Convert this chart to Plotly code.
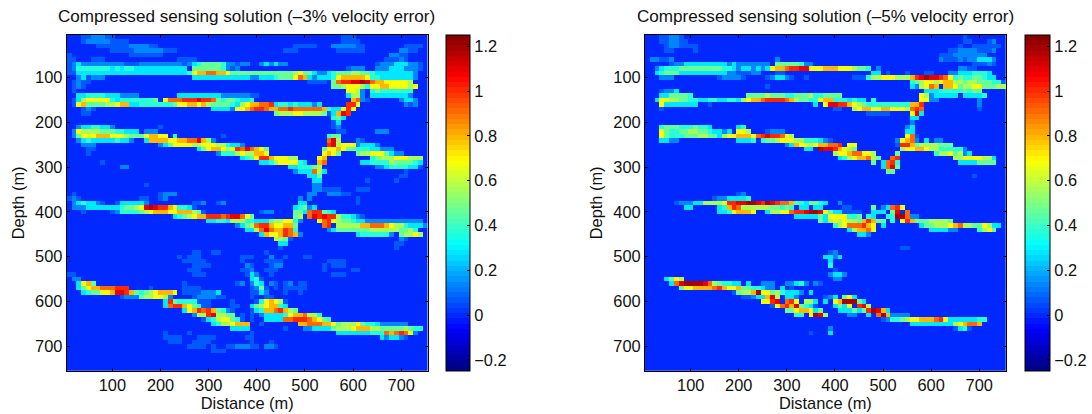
import numpy as np
import plotly.graph_objects as go

DEPTH_M = list(range(10, 760, 10))
DISTANCE_M = list(range(10, 760, 10))
TICKS_M = [100, 200, 300, 400, 500, 600, 700]
CBAR_TICKS = [-0.2, 0, 0.2, 0.4, 0.6, 0.8, 1, 1.2]
TITLE_A = "Compressed sensing solution (\u20133% velocity error)"
TITLE_B = "Compressed sensing solution (\u20135% velocity error)"
# amplitude of each code character used in the segments below
CODE_VALUES = {"1": 0.06, "2": 0.14, "3": 0.27, "4": 0.37, "5": 0.47, "6": 0.57, "7": 0.68,
               "8": 0.8, "9": 0.9, "a": 1.0, "b": 1.1, "c": 1.2}

# amplitude, as (row, first column, amplitude codes)
AMPLITUDE_3PCT = [
 (0,3,"1122211"),(0,57,"111"),
 (1,3,"1222221111"),(1,57,"1111"),
 (2,6,"1111111222211"),(2,47,"11111"),(2,55,"2222211"),(2,70,"1111"),
 (3,9,"11111222222111"),(3,45,"111"),(3,56,"111111"),(3,69,"2211"),
 (4,0,"1"),(4,13,"1111111"),(4,67,"2211"),
 (5,0,"11"),(5,5,"111"),(5,23,"1111"),(5,66,"11121"),
 (6,0,"12322222222211122222222212"),(6,26,"3455554"),(6,33,"22122"),(6,40,"232322"),(6,64,"1222333221"),
 (7,0,"1244444443434433333333333"),(7,26,"5555554"),(7,33,"212"),(7,58,"1222"),(7,64,"2223332221"),
 (8,0,"1133333333333333333333333"),(8,25,"4788998875"),(8,35,"5555555555556755"),(8,51,"32234"),(8,56,"5556655"),(8,63,"4333333332"),
 (9,2,"231222"),(9,26,"33333333333322"),(9,40,"3334555"),(9,47,"798"),(9,50,"323334"),(9,56,"7888887"),(9,63,"4433"),(9,66,"3333332"),
 (10,1,"1211"),(10,50,"1111"),(10,55,"5"),(10,56,"9aabbcb9"),(10,64,"88777776"),
 (11,1,"121"),(11,55,"5567776"),(11,62,"47788777767"),
 (12,1,"1"),(12,58,"7762"),(12,63,"454444444"),
 (13,2,"33444433322"),(13,13,"22"),(13,23,"333333333"),(13,32,"22222211"),(13,58,"3663"),(13,61,"2"),(13,63,"333333332"),
 (14,1,"1"),(14,2,"3677777"),(14,9,"4344444445"),(14,20,"7999aaabaa9"),(14,31,"54554334"),(14,59,"89"),(14,61,"21"),(14,69,"2332"),
 (15,1,"1"),(15,2,"78555566788"),(15,13,"3344444445"),(15,23,"77887865"),(15,31,"55543"),(15,36,"678899a"),(15,43,"3443433323"),(15,58,"aa7"),(15,70,"212"),
 (16,3,"121"),(16,30,"33332"),(16,35,"7789aa9"),(16,42,"8899a9999998"),(16,54,"4"),(16,55,"337a7"),
 (17,3,"11"),(17,43,"56667766665"),(17,55,"38ba"),(17,54,"1"),
 (18,55,"453"),(19,55,"13"),(20,55,"12"),(21,56,"11"),(21,64,"222"),
 (20,2,"23344332"),(20,19,"1"),
 (21,1,"2"),(21,2,"7666655544333"),(21,16,"222"),
 (22,1,"2"),(22,2,"57778887776555"),(22,16,"78877"),(22,22,"4"),(22,32,"1"),(22,54,"455"),
 (23,2,"2"),(23,3,"3433333433"),(23,13,"2"),(23,16,"3"),(23,17,"8888"),(23,21,"77889"),(23,26,"9b86"),(23,30,"2"),(23,54,"9b6"),(23,60,"21"),
 (24,3,"222"),(24,19,"22"),(24,20,"357777667"),(24,29,"7766"),(24,33,"4332"),(24,54,"ab5"),(24,56,"6777"),(24,60,"23332"),
 (25,4,"11"),(25,27,"3"),(25,28,"5788"),(25,32,"767a"),(25,36,"9b"),(25,38,"9875"),(25,53,"5778"),(25,57,"7554"),(25,61,"4433222"),
 (26,4,"1"),(26,31,"2"),(26,32,"44467"),(26,37,"66887"),(26,53,"7875"),(26,60,"5667775"),(26,67,"322"),
 (27,36,"3"),(27,37,"4578a9"),(27,40,"aa8"),(27,43,"77766"),(27,52,"7"),(27,53,"8"),(27,63,"45666788"),(27,69,"77666"),
 (28,7,"1"),(28,40,"334"),(28,43,"6777743"),(28,52,"89"),(28,61,"3"),(28,62,"34444655554"),(28,73,"3"),
 (29,11,"22"),(29,46,"3344455"),(29,52,"6"),(29,64,"2234444331"),
 (30,47,"233"),(30,50,"36"),(30,51,"96"),(30,53,"3"),(30,70,"1"),
 (31,50,"335"),(31,69,"11"),
 (32,51,"33"),(32,62,"1"),(32,68,"1"),
 (33,16,"1"),(33,51,"22"),
 (34,51,"221111"),(34,60,"111"),
 (35,1,"1"),(35,19,"1222"),(35,50,"22"),(35,54,"22211"),
 (36,0,"121"),(36,15,"11"),(36,19,"12"),(36,48,"2"),(36,50,"2"),(36,60,"1"),
 (37,1,"2343321"),(37,10,"1333332"),(37,26,"112"),(37,31,"12"),(37,48,"33"),(37,60,"1"),
 (38,1,"222333333345567"),(38,16,"bcbaa87"),(38,23,"443"),(38,26,"1"),(38,47,"3452"),(38,50,"23"),
 (39,3,"1"),(39,9,"1244445"),(39,16,"6788877888"),(39,26,"651"),(39,40,"122"),(39,47,"5532"),(39,50,"9aa5"),(39,54,"43"),
 (40,22,"3"),(40,23,"4567"),(40,27,"88aaa9ab"),(40,35,"b97"),(40,38,"5"),(40,47,"56"),(40,50,"9ba"),(40,53,"baa6"),(40,57,"44321"),
 (41,29,"33443"),(41,34,"6664"),(41,38,"433"),(41,40,"3356677"),(41,47,"42"),(41,52,"7"),(41,53,"9a"),(41,55,"76"),(41,57,"55433222222222222"),
 (42,35,"2"),(42,36,"35"),(42,38,"6"),(42,39,"9a"),(42,41,"a8"),(42,43,"7788"),(42,47,"5"),(42,53,"9a"),(42,56,"66666"),(42,61,"889998766433322"),
 (43,37,"3"),(43,38,"36"),(43,40,"9b9"),(43,43,"88a9"),(43,47,"4"),(43,54,"2"),(43,55,"3"),(43,56,"5555"),(43,60,"5556666665544"),(43,70,"56"),
 (44,40,"3"),(44,41,"8778a98"),(44,48,"2"),(44,60,"3444444"),(44,67,"2"),(44,69,"56676"),
 (45,43,"6"),(45,44,"65"),(45,46,"1"),(45,69,"21"),
 (46,44,"33"),(46,68,"11"),
 (47,44,"1"),(47,68,"1"),
 (48,41,"1"),(48,26,"11"),
 (48,30,"11"),
 (49,23,"1"),(49,25,"111"),(49,36,"1"),(49,42,"2"),(49,45,"1"),(49,49,"1"),(49,37,"11"),(49,50,"1"),
 (50,24,"11111"),(50,36,"1"),(50,41,"1111"),(50,54,"1111"),
 (51,26,"1111"),(51,37,"21"),(51,42,"122"),(51,53,"1"),(51,55,"111"),
 (52,25,"111"),(52,36,"112"),(52,41,"111"),(52,53,"1"),(52,59,"11"),
 (53,0,"11"),(53,26,"111"),(53,37,"132"),(53,42,"1"),(53,55,"111"),
 (54,1,"22"),(54,38,"341"),
 (55,2,"3785"),(55,24,"1"),(55,35,"12"),(55,38,"243"),(55,42,"2"),(55,43,"1"),(55,45,"12"),(55,48,"11"),
 (56,2,"3"),(56,3,"5788999aaa"),(56,17,"1"),(56,24,"1111"),(56,38,"1251"),(56,41,"1"),(56,43,"1"),(56,45,"111"),(56,48,"11"),
 (57,3,"3"),(57,4,"4557788ab"),(57,10,"bba8545678887"),(57,24,"1111"),(57,28,"2223"),(57,38,"1132"),(57,45,"1"),(57,48,"1"),
 (58,11,"12"),(58,13,"225"),(58,16,"66776"),(58,21,"2"),(58,26,"1222"),(58,30,"211"),(58,38,"1"),(58,41,"11"),
 (59,20,"3a"),(59,22,"54444"),(59,27,"111"),(59,34,"1"),(59,39,"14"),(59,41,"78"),(59,43,"761"),
 (60,20,"3"),(60,21,"9aa8754"),(60,28,"11"),(60,34,"11"),(60,38,"3"),(60,39,"5"),(60,40,"6788"),(60,44,"43"),
 (61,24,"3"),(61,25,"7"),(61,26,"8a9a"),(61,30,"854"),(61,33,"21"),(61,38,"1"),(61,39,"34"),(61,41,"889a"),(61,45,"865"),
 (62,26,"2"),(62,27,"66ab"),(62,31,"6655"),(62,36,"1"),(62,38,"1"),(62,40,"233334"),(62,46,"7889"),(62,50,"664"),
 (63,28,"1"),(63,29,"346"),(63,32,"7754"),(63,36,"1"),(63,38,"1"),(63,41,"3333"),(63,45,"99aaa987"),(63,53,"5"),(63,54,"4"),
 (64,30,"34"),(64,32,"667888"),(64,40,"1"),(64,48,"88999887"),(64,56,"566677"),(64,61,"5443222222"),
 (65,34,"3333"),(65,45,"1"),(65,49,"223333"),(65,55,"566678886655555"),(65,70,"6544"),
 (66,20,"1"),(66,25,"1"),(66,38,"1"),(66,56,"3333333"),(66,63,"4444"),(66,66,"989a97"),(66,72,"2"),
 (67,20,"1111"),(67,27,"1111"),(67,37,"11"),(67,65,"3233"),(67,69,"21"),
 (68,21,"111"),(68,26,"1111"),(68,38,"1"),(68,42,"1"),
 (69,25,"1111"),(69,30,"1"),(69,33,"1122211"),(69,41,"221"),
 (70,30,"111"),
]

AMPLITUDE_5PCT = [
 (0,3,"11221"),(1,3,"112211"),(2,4,"1221111"),(3,4,"11"),(3,10,"1"),
 (0,66,"1"),(1,66,"11"),(1,71,"12"),
 (2,65,"1"),(2,68,"1111"),(2,72,"11"),
 (3,63,"1122221112"),(4,61,"1112222222"),(5,61,"211121223332"),
 (5,1,"22112"),(5,27,"2"),
 (6,5,"122333333333232222222"),(6,27,"555554"),(6,33,"22"),(6,68,"1112"),(6,71,"21"),
 (7,2,"2"),(7,3,"34445555555554432332323"),(7,26,"7889aabb"),(7,34,"7778887776"),(7,44,"554"),(7,48,"2"),(7,65,"2211"),
 (8,2,"3"),(8,3,"45553333333333222"),(8,19,"11122"),(8,27,"11"),(8,47,"33"),(8,50,"1"),(8,54,"1"),(8,58,"11"),(8,63,"223334443"),
 (9,3,"222"),(9,15,"122221"),(9,25,"12"),(9,27,"3321"),(9,33,"1"),(9,43,"111"),(9,46,"4"),(9,47,"66777666"),(9,55,"8abcbba97"),(9,64,"4"),(9,65,"54455433"),
 (10,55,"4"),(10,56,"567767889"),(10,64,"6656655544"),(10,74,"1"),
 (11,25,"1"),(11,55,"3"),(11,56,"24"),(11,57,"6798"),(11,62,"8875"),(11,65,"5667755566"),
 (12,3,"1223"),(12,58,"333"),(12,60,"3444445445"),(12,68,"55"),
 (13,3,"3355554"),(13,21,"55556555445556445555"),(13,57,"7623"),(13,61,"3333"),(13,66,"33334"),
 (14,2,"3"),(14,3,"7766554433"),(14,13,"4433443"),(14,20,"6"),(14,21,"7889aaaa98"),(14,31,"655"),(14,34,"4"),(14,35,"4788"),(14,39,"4443433"),(14,47,"4"),(14,57,"77"),(14,59,"22"),(14,69,"2"),
 (15,3,"73333333"),(15,13,"1"),(15,35,"3"),(15,37,"7bbaa876"),(15,45,"5444444444"),(15,55,"8"),(15,56,"8a"),(15,69,"2"),
 (16,3,"1"),(16,39,"11"),(16,43,"6788778877765"),(16,55,"9a9"),(16,69,"1"),
 (17,46,"11111"),(17,55,"7b"),(17,57,"3"),
 (18,55,"33"),(19,55,"2"),
 (20,3,"4555444544"),(20,13,"3"),(20,19,"34"),(20,54,"23"),
 (21,3,"7"),(21,4,"5445566554"),(21,14,"3323"),(21,19,"776"),(21,25,"1"),(21,26,"222"),(21,54,"33"),
 (22,3,"75444555665532"),(22,16,"6778887"),(22,23,"9abaa9"),(22,29,"76"),(22,54,"79"),(22,56,"1"),
 (23,3,"3322"),(23,19,"3334"),(23,24,"45567"),(23,29,"7766"),(23,33,"4443"),(23,37,"21"),(23,52,"2"),(23,53,"789"),(23,56,"2"),(23,58,"3"),(23,60,"22"),
 (24,29,"2"),(24,30,"3"),(24,31,"8776788"),(24,38,"9"),(24,39,"9a"),(24,42,"77"),(24,52,"1a"),(24,54,"a"),(24,55,"85"),(24,57,"66665"),(24,62,"55"),
 (25,33,"33"),(25,36,"cbba"),(25,40,"8765"),(25,53,"6778"),(25,57,"8"),(25,58,"7664"),(25,62,"44442"),
 (26,39,"677899776"),(26,52,"5"),(26,60,"4667"),(26,64,"56"),(26,66,"23"),
 (27,40,"3467889"),(27,47,"65"),(27,51,"9a"),(27,64,"66"),(27,66,"7777667"),(27,72,"3"),
 (28,47,"5"),(28,49,"3"),(28,50,"9a"),(28,52,"4"),(28,65,"3333"),(28,69,"5555"),
 (29,49,"3"),(29,50,"9b5"),
 (30,50,"55"),(31,68,"1"),
 (35,19,"12"),(36,14,"1"),(36,15,"2"),(36,16,"233334"),
 (37,6,"1222"),(37,10,"33"),(37,12,"6666"),(37,16,"7"),(37,17,"aabbccbac"),(37,26,"ba998"),(37,31,"543"),(37,34,"5543"),(37,40,"2"),
 (38,8,"33"),(38,15,"34"),(38,17,"8"),(38,18,"a9"),(38,20,"6666"),(38,24,"6655"),(38,28,"454"),(38,32,"33"),(38,35,"33"),(38,41,"11"),(38,47,"5"),(38,49,"23"),(38,51,"9a"),(38,53,"7"),
 (39,15,"334"),(39,18,"78887"),(39,25,"3"),(39,26,"66"),(39,28,"776"),(39,30,"9aab"),(39,34,"ccb"),(39,37,"7533"),(39,41,"1111"),(39,47,"3"),(39,48,"33"),(39,51,"5b"),(39,54,"9"),
 (40,31,"33333"),(40,36,"5"),(40,37,"3"),(40,38,"7777"),(40,42,"445"),(40,46,"4"),(40,47,"3"),(40,50,"4455"),(40,52,"cc"),(40,54,"9"),(40,55,"22"),
 (41,36,"5"),(41,37,"3"),(41,38,"676"),(41,41,"7665"),(41,45,"8a8"),(41,48,"55"),(41,51,"4"),(41,53,"7"),(41,54,"a"),(41,55,"8"),(41,56,"5"),(41,57,"5566665"),
 (42,39,"4"),(42,40,"6799"),(42,44,"9a8"),(42,47,"7"),(42,49,"3"),(42,57,"3"),(42,58,"55666789"),(42,66,"66"),(42,68,"5576"),(42,72,"33"),
 (43,42,"3"),(43,43,"6889"),(43,47,"7"),(43,59,"3"),(43,60,"33322"),(43,69,"4676"),(43,72,"5"),
 (44,44,"33"),(44,46,"2"),
 (47,53,"11"),
 (48,38,"12"),(49,37,"3323"),(50,38,"3"),(51,38,"4"),(52,39,"1"),(53,38,"2332"),(54,39,"22"),
 (54,4,"3576"),
 (55,5,"3"),(55,6,"9bccccb9"),(55,14,"6544"),(55,18,"33"),(55,21,"3"),(55,24,"2"),(55,25,"22"),(55,29,"2"),(55,30,"2342"),(55,35,"21"),
 (56,7,"5"),(56,8,"7788889a"),(56,16,"8778"),(56,20,"5544"),(56,24,"33"),(56,25,"22"),(56,28,"3"),(56,30,"1"),
 (57,18,"1"),(57,19,"5667"),(57,22,"8c"),(57,24,"77"),(57,26,"56"),(57,28,"43"),(57,30,"33"),(57,32,"2"),(57,34,"3"),
 (58,20,"1"),(58,21,"1233"),(58,25,"8b"),(58,27,"6"),(58,29,"33"),(58,31,"2"),(58,37,"1"),(58,38,"23"),(58,41,"5"),(58,42,"73"),
 (59,24,"7"),(59,25,"76"),(59,26,"ab"),(59,29,"9a"),(59,31,"7"),(59,33,"665"),(59,35,"3"),(59,37,"3"),(59,39,"7"),(59,40,"888"),(59,41,"c"),(59,42,"cc"),(59,44,"53"),
 (60,26,"1"),(60,27,"7"),(60,28,"9a"),(60,30,"8"),(60,31,"b"),(60,32,"54"),(60,34,"3"),(60,35,"1"),(60,39,"3"),(60,40,"5"),(60,41,"37"),(60,44,"ab"),(60,46,"6"),
 (61,29,"55"),(61,31,"78"),(61,33,"87"),(61,35,"3"),(61,36,"5"),(61,40,"333"),(61,43,"5"),(61,44,"3"),(61,45,"5ac"),(61,48,"b9"),(61,49,"83"),
 (62,31,"44"),(62,34,"7"),(62,35,"cb"),(62,37,"6"),(62,42,"22"),(62,46,"3"),(62,48,"9c"),(62,50,"8"),(62,51,"2222"),
 (63,49,"12"),(63,51,"445"),(63,54,"67788"),(63,59,"8"),(63,60,"9a"),(63,62,"7"),(63,63,"333333"),(63,69,"44"),
 (64,55,"333333333"),(64,64,"678998"),
 (65,64,"1341"),
 (65,38,"2"),(66,34,"1"),(66,38,"3"),
]

def to_grid(segments):
    grid = np.zeros((len(DEPTH_M), len(DISTANCE_M)))
    for row, col, text in segments:
        for i, ch in enumerate(text):
            if col + i < len(DISTANCE_M):
                grid[row, col + i] = CODE_VALUES[ch]
    return grid

def jet(t):
    r = np.clip(min(4*t - 1.5, -4*t + 4.5), 0, 1)
    g = np.clip(min(4*t - 0.5, -4*t + 3.5), 0, 1)
    b = np.clip(min(4*t + 0.5, -4*t + 2.5), 0, 1)
    return f"rgb({round(r*255)},{round(g*255)},{round(b*255)})"

LEVELS = 64
scale = []
for k in range(LEVELS):
    c = jet((k + 0.5) / LEVELS)
    scale += [[k / LEVELS, c], [(k + 1) / LEVELS, c]]

W, H = 1092, 414
TOP, BOTTOM = 35.0, 370.7
PANELS = [
    dict(x0=66.7, x1=427.7, c0=446.3, c1=470.7, xa="x", ya="y", data=AMPLITUDE_3PCT, title=TITLE_A, tx=246.5),
    dict(x0=645.0, x1=1005.7, c0=1024.7, c1=1049.3, xa="x2", ya="y2", data=AMPLITUDE_5PCT, title=TITLE_B, tx=825.5),
]
FONT = dict(family="Liberation Sans, Arial, sans-serif", color="#111111")
TICK = 16.4

fig = go.Figure()
layout = dict(
    width=W, height=H, margin=dict(l=0, r=0, t=0, b=0, autoexpand=False),
    paper_bgcolor="white", plot_bgcolor="white", showlegend=False,
    font=dict(size=TICK, **FONT), annotations=[],
)
for i, p in enumerate(PANELS):
    fig.add_trace(go.Heatmap(
        z=to_grid(p["data"]), x=DISTANCE_M, y=DEPTH_M, xaxis=p["xa"], yaxis=p["ya"],
        colorscale=scale, zmin=-0.25, zmax=1.25,
        colorbar=dict(
            x=p["c0"]/W, xanchor="left", xpad=0, ypad=0, y=1-TOP/H, yanchor="top",
            lenmode="fraction", len=(BOTTOM-TOP)/H, thicknessmode="pixels", thickness=p["c1"]-p["c0"],
            outlinecolor="black", outlinewidth=1, borderwidth=0,
            ticks="inside", ticklen=3, tickwidth=1, tickcolor="black",
            tickvals=CBAR_TICKS, tickfont=dict(size=TICK, **FONT),
        ),
    ))
    suffix = "" if i == 0 else "2"
    common = dict(tickvals=TICKS_M, ticks="inside", ticklen=3, tickwidth=1, tickcolor="black",
                  showline=True, linecolor="black", linewidth=1, mirror="ticks", showgrid=False,
                  zeroline=False, tickfont=dict(size=TICK, **FONT))
    layout["xaxis"+suffix] = dict(domain=[p["x0"]/W, p["x1"]/W], range=[5, 755], anchor="y"+suffix,
                                  title=dict(text="Distance (m)", standoff=0, font=dict(size=TICK, **FONT)), **common)
    layout["yaxis"+suffix] = dict(domain=[1-BOTTOM/H, 1-TOP/H], range=[755, 5], anchor="x"+suffix,
                                  title=dict(text="Depth (m)", standoff=6, font=dict(size=TICK, **FONT)), **common)
    layout["annotations"].append(dict(
        text=p["title"], xref="paper", yref="paper", x=p["tx"]/W, y=1-17/H, xanchor="center", yanchor="middle",
        showarrow=False, font=dict(size=17.1, **FONT)))
fig.update_layout(**layout)
fig.write_html("out.html", config=dict(displayModeBar=False),
               post_script="document.body.style.margin='0';document.documentElement.style.overflow='hidden';")
